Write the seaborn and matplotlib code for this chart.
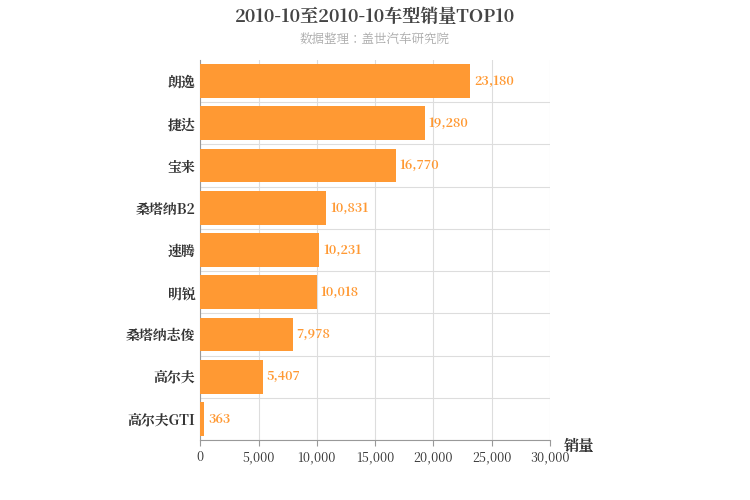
import matplotlib
matplotlib.use("Agg")
import matplotlib.pyplot as plt
from matplotlib import font_manager
import seaborn as sns
import pandas as pd
import numpy as np

# pick an installed CJK font
cjk = [f.name for f in font_manager.fontManager.ttflist if "CJK" in f.name]
family = "Noto Sans CJK SC" if "Noto Sans CJK SC" in cjk else (cjk[0] if cjk else "DejaVu Sans")
plt.rcParams["font.family"] = "sans-serif"
plt.rcParams["font.sans-serif"] = [family, "DejaVu Sans"]

models = ["朗逸", "捷达", "宝来", "桑塔纳B2", "速腾", "明锐", "桑塔纳志俊", "高尔夫", "高尔夫GTI"]
sales = [23180, 19280, 16770, 10831, 10231, 10018, 7978, 5407, 363]
xticks = [0, 5000, 10000, 15000, 20000, 25000, 30000]

df = pd.DataFrame({"model": models, "sales": sales})

fig = plt.figure(figsize=(7.5, 5), dpi=100)
ax = fig.add_axes([0.267, 0.12, 0.466, 0.76])
sns.barplot(data=df, x="sales", y="model", color="#FF9933", saturation=1, width=0.8, ax=ax, zorder=3)

ax.set_xlim(0, 30000)
ax.set_xticks(xticks)
ax.set_xticklabels([f"{v:,}" for v in xticks], fontsize=9, color="#333333")
ax.set_yticks(np.arange(len(models)))
ax.set_yticklabels(models, fontsize=10, fontweight="bold", color="#333333")
ax.set_yticks(np.arange(len(models)) + 0.5, minor=True)
ax.set_ylim(len(models) - 0.5, -0.5)
ax.grid(axis="x", color="#dddddd", zorder=0)
ax.grid(axis="y", which="minor", color="#dddddd", zorder=0)
ax.tick_params(axis="y", which="both", length=0)
ax.tick_params(axis="x", length=4, color="#999999")
for s in ["top", "right"]:
    ax.spines[s].set_visible(False)
ax.spines["left"].set_color("#999999")
ax.spines["bottom"].set_color("#999999")
ax.set_ylabel("")
ax.set_xlabel("")
ax.text(1.04, -0.03, "销量", transform=ax.transAxes, fontsize=11, fontweight="bold", color="#333333")

for i, v in enumerate(sales):
    ax.text(v + 300, i, f"{v:,}", va="center", fontsize=9, fontweight="bold", color="#FF9933")

fig.text(0.5, 0.965, "2010-10至2010-10车型销量TOP10", ha="center", va="center", fontsize=13, fontweight="bold", color="#444444")
fig.text(0.5, 0.92, "数据整理：盖世汽车研究院", ha="center", va="center", fontsize=9, color="#aaaaaa")

fig.savefig("out.png", dpi=100)
